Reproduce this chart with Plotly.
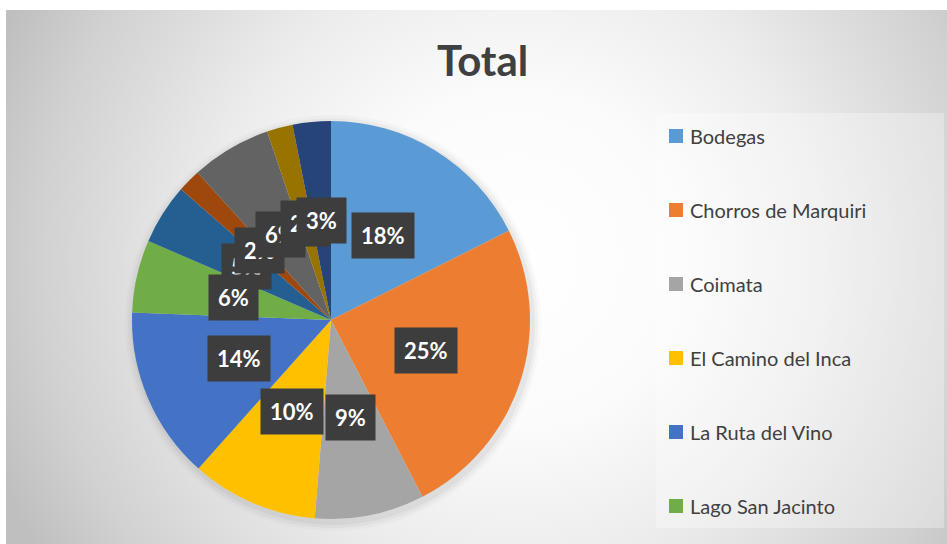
import base64
import math
import plotly.graph_objects as go

# ---------------- data ----------------
labels = ["Bodegas", "Chorros de Marquiri", "Coimata", "El Camino del Inca",
          "La Ruta del Vino", "Lago San Jacinto", "Las Barrancas", "Reserva de Sama",
          "San Lorenzo", "Tomatitas", "Valle de la Concepción"]
values = [17.6, 24.8, 8.9, 10.3, 14.0, 5.9, 4.9, 1.9, 6.5, 2.1, 3.1]
colors = ["#5B9BD5", "#ED7D31", "#A5A5A5", "#FFC000", "#4472C4", "#70AD47",
          "#255E91", "#9E480E", "#636363", "#997300", "#264478"]
legend_shown = 6          # the legend in the original is cut off after 6 entries
title_text = "Total"

# ---------------- geometry (pixels) ----------------
W, H = 947, 544
CX, CY, R = 331, 320, 199


def px(x):
    return x / W


def py(y):
    return 1 - y / H


fig = go.Figure()

fig.add_trace(go.Pie(
    labels=labels, values=values, sort=False, direction="clockwise", rotation=0,
    marker=dict(colors=colors, line=dict(width=0)),
    textinfo="none", hoverinfo="label+percent", showlegend=False,
    domain=dict(x=[px(CX - R), px(CX + R)], y=[py(CY + R), py(CY - R)]),
))

# ---------------- background gradient ----------------
svg = f'''<svg xmlns="http://www.w3.org/2000/svg" width="941" height="534" viewBox="0 0 941 534">
<defs><radialGradient id="g" gradientUnits="userSpaceOnUse" cx="510" cy="250" r="560">
<stop offset="0" stop-color="#ffffff"/>
<stop offset="0.3" stop-color="#fbfbfb"/>
<stop offset="0.55" stop-color="#ececec"/>
<stop offset="0.85" stop-color="#d1d1d1"/>
<stop offset="1" stop-color="#bfbfbf"/>
</radialGradient></defs>
<rect x="0" y="0" width="941" height="534" fill="url(#g)"/>
</svg>'''
src = "data:image/svg+xml;base64," + base64.b64encode(svg.encode()).decode()

images = [dict(source=src, xref="paper", yref="paper", x=px(6), y=py(10),
               sizex=941 / W, sizey=534 / H, sizing="stretch",
               xanchor="left", yanchor="top", layer="below")]

shapes = []
# soft pie shadow
for grow, op in [(9, 0.02), (6, 0.03), (3, 0.04)]:
    shapes.append(dict(type="circle", xref="paper", yref="paper",
                       x0=px(CX - R - grow + 2), x1=px(CX + R + grow + 2),
                       y0=py(CY + R + grow + 3), y1=py(CY - R - grow + 3),
                       fillcolor=f"rgba(0,0,0,{op})", line=dict(width=0), layer="below"))

# legend box
shapes.append(dict(type="rect", xref="paper", yref="paper",
                   x0=px(656), x1=px(944), y0=py(528), y1=py(113),
                   fillcolor="rgba(255,255,255,0.3)", line=dict(width=0), layer="below"))

annotations = []
# title
annotations.append(dict(text=f"<b>{title_text}</b>", xref="paper", yref="paper",
                        x=px(482), y=py(60), xanchor="center", yanchor="middle",
                        showarrow=False, font=dict(family="Lato", size=42, color="#404040")))

# legend entries
for i in range(legend_shown):
    yc = 136 + 74 * i
    shapes.append(dict(type="rect", xref="paper", yref="paper",
                       x0=px(669), x1=px(683), y0=py(yc + 7), y1=py(yc - 7),
                       fillcolor=colors[i], line=dict(width=0)))
    annotations.append(dict(text=labels[i], xref="paper", yref="paper",
                            x=px(688), y=py(yc), xanchor="left", yanchor="middle",
                            showarrow=False, font=dict(family="Lato", size=20, color="#404040")))

# data labels (boxes at half radius, derived from values)
total = sum(values)
cum = 0
label_pos = []
for v in values:
    mid = (cum + v / 2) / total * 2 * math.pi
    cum += v
    label_pos.append((CX + 0.5 * R * math.sin(mid), CY - 0.5 * R * math.cos(mid)))

order = [0, 1, 2, 3, 4, 6, 5, 7, 8, 9, 10]
for i in order:
    x, y = label_pos[i]
    pct = round(values[i] / total * 100)
    annotations.append(dict(text=f"<b>{pct}%</b>", xref="paper", yref="paper",
                            x=px(x), y=py(y), xanchor="center", yanchor="middle",
                            showarrow=False, bgcolor="#3d3d3d", borderpad=9,
                            font=dict(family="Lato", size=22, color="#ffffff")))

fig.update_layout(
    width=W, height=H, margin=dict(l=0, r=0, t=0, b=0),
    paper_bgcolor="#ffffff", plot_bgcolor="#ffffff",
    images=images, shapes=shapes, annotations=annotations,
)

fig.write_html("out.html", config={"displayModeBar": False},
               post_script="document.body.style.margin='0';")
